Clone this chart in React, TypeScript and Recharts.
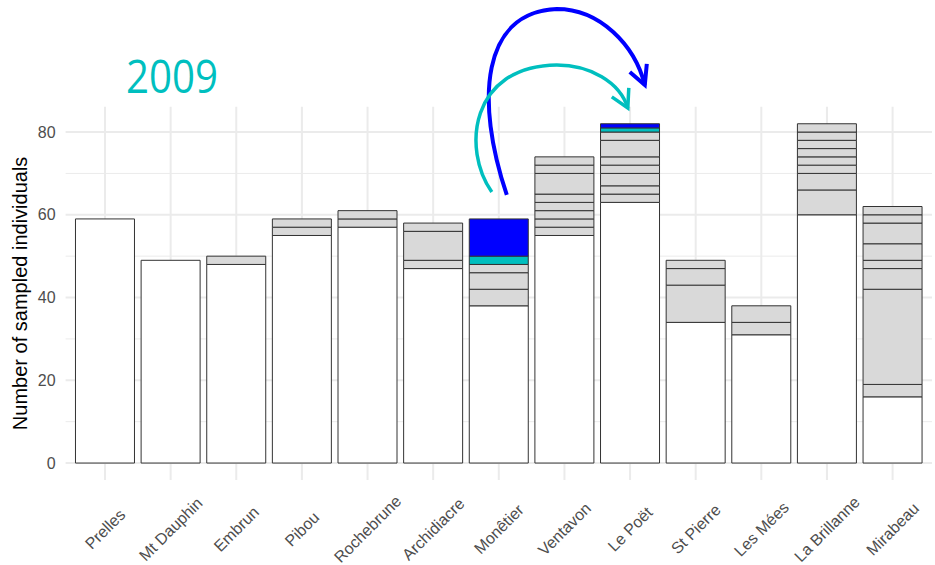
import React from "react";
import { Bar, BarChart, CartesianGrid, Label, ReferenceDot, XAxis, YAxis } from "recharts";

const stations = [
  "Prelles", "Mt Dauphin", "Embrun", "Pibou", "Rochebrune", "Archidiacre", "Monêtier",
  "Ventavon", "Le Poët", "St Pierre", "Les Mées", "La Brillanne", "Mirabeau",
];
// white (resident) part of each bar
const baseCounts = [59, 49, 48, 55, 57, 47, 38, 55, 63, 34, 31, 60, 16];
// grey groups stacked above, bottom to top
const grayCounts = [
  [], [], [2], [2, 2], [2, 2], [2, 7, 2], [4, 4, 2], [2, 2, 2, 2, 2, 5, 2, 2],
  [2, 2, 3, 2, 2, 4, 2], [9, 4, 2], [3, 4], [6, 4, 2, 2, 2, 2, 2, 2], [3, 23, 5, 2, 4, 5, 2, 2],
];
const cyanCounts = [0, 0, 0, 0, 0, 0, 2, 0, 1, 0, 0, 0, 0];
const blueCounts = [0, 0, 0, 0, 0, 0, 9, 0, 1, 0, 0, 0, 0];
const yTicks = [0, 20, 40, 60, 80];
const yMinor = [10, 30, 50, 70];

const GRAY_SLOTS = 8;
const rows = stations.map((station, i) => {
  const row: Record<string, number | string> = { station, base: baseCounts[i] };
  for (let k = 0; k < GRAY_SLOTS; k++) row[`g${k}`] = grayCounts[i][k] ?? 0;
  row.cyan = cyanCounts[i];
  row.blue = blueCounts[i];
  return row;
});
const totals = stations.map(
  (_, i) => baseCounts[i] + grayCounts[i].reduce((a, b) => a + b, 0) + cyanCounts[i] + blueCounts[i]
);
const source = stations.indexOf("Monêtier");

const FONT = "'Liberation Sans', Arial, sans-serif";
const BORDER = "#333333";

// labels are centred under the tick, rotated 45°
function StationTick(props: any) {
  const { x, y, payload } = props;
  const tx = x + 4;
  const ty = y + 53;
  return (
    <text
      x={tx}
      y={ty}
      transform={`rotate(-45, ${tx}, ${ty})`}
      textAnchor="middle"
      fontSize={16}
      fontFamily={FONT}
      fill="#4d4d4d"
    >
      {payload.value}
    </text>
  );
}

// the two transfer arrows, drawn relative to the top of the Monêtier bar
function TransferArrows({ cx, cy }: { cx: number; cy: number }) {
  return (
    <g transform={`translate(${cx},${cy})`} fill="none">
      <path d="M8,-24 C-24,-119 -17,-207 58,-210 C101,-210 136,-174 146,-134" stroke="#0000ff" strokeWidth={4} />
      <path d="M131,-147 L146,-134 L148,-155" stroke="#0000ff" strokeWidth={4} />
      <path d="M-7,-27 C-37,-69 -29,-153 58,-154 C91,-154 121,-137 129,-111" stroke="#00bfbf" strokeWidth={3.5} />
      <path d="M113,-122 L129,-111 L130,-131" stroke="#00bfbf" strokeWidth={3.5} />
    </g>
  );
}

export default function App() {
  return (
    <div style={{ position: "absolute", left: 0, top: 0, width: 935, height: 565, background: "#fff" }}>
      <svg width={935} height={565} style={{ position: "absolute", left: 0, top: 0 }}>
        <text x={126} y={93} fontSize={46} fontFamily="'Open Sans', sans-serif" fill="#00bfbf" textLength={92} lengthAdjust="spacingAndGlyphs">
          2009
        </text>
      </svg>
      <div style={{ position: "absolute", left: 0, top: 0 }}>
        <BarChart
          width={935}
          height={565}
          data={rows}
          margin={{ top: 106.8, right: 3, bottom: 0, left: 0 }}
          barCategoryGap="5%"
        >
          <CartesianGrid stroke="#ebebeb" strokeWidth={1} vertical={false} horizontalValues={yMinor} syncWithTicks />
          <CartesianGrid stroke="#ebebeb" strokeWidth={2} syncWithTicks />
          <XAxis
            dataKey="station"
            height={85}
            padding={{ left: 6.6, right: 6.6 }}
            axisLine={false}
            tickLine={false}
            tickSize={0}
            tickMargin={0}
            interval={0}
            tick={<StationTick />}
          />
          <YAxis
            width={65.6}
            domain={[-4.1, 86.1]}
            ticks={yTicks}
            axisLine={false}
            tickLine={false}
            tickSize={0}
            tickMargin={10}
            tick={{ fontSize: 16, fill: "#4d4d4d", fontFamily: FONT }}
          >
            <Label
              value="Number of sampled individuals"
              angle={-90}
              position="insideLeft"
              offset={20}
              style={{ textAnchor: "middle", fontSize: 20, fill: "#000", fontFamily: FONT }}
            />
          </YAxis>
          <Bar dataKey="base" stackId="a" fill="#ffffff" stroke={BORDER} strokeWidth={1} isAnimationActive={false} />
          {Array.from({ length: GRAY_SLOTS }, (_, k) => (
            <Bar key={k} dataKey={`g${k}`} stackId="a" fill="#d9d9d9" stroke={BORDER} strokeWidth={1} isAnimationActive={false} />
          ))}
          <Bar dataKey="cyan" stackId="a" fill="#00bfbf" stroke={BORDER} strokeWidth={1} isAnimationActive={false} />
          <Bar dataKey="blue" stackId="a" fill="#0000ff" stroke={BORDER} strokeWidth={1} isAnimationActive={false} />
          <ReferenceDot
            x={stations[source]}
            y={totals[source]}
            r={0}
            ifOverflow="visible"
            shape={(p: any) => <TransferArrows cx={p.cx} cy={p.cy} />}
          />
        </BarChart>
      </div>
    </div>
  );
}
